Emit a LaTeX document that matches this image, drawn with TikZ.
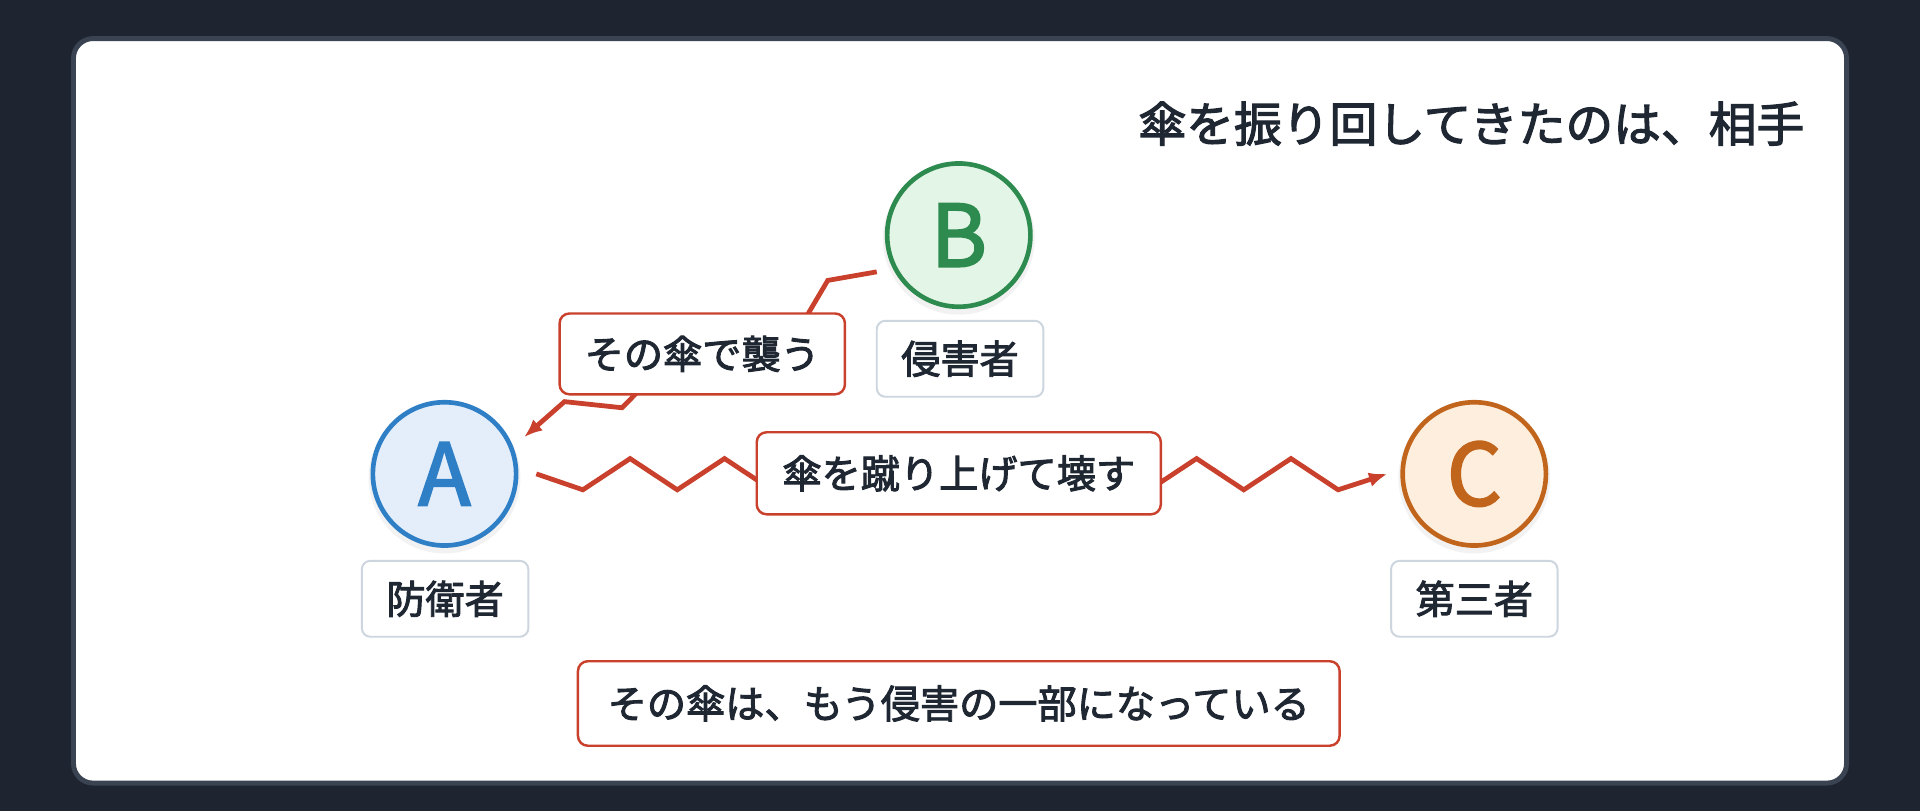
\documentclass[tikz,border=0pt]{standalone}
\usepackage{fontspec}
\setmainfont{Noto Sans CJK JP}[FakeBold=2.4]
\newfontfamily\letterfont{Noto Sans CJK JP}[FakeBold=2.4]
\usetikzlibrary{arrows.meta}
\definecolor{bgdark}{HTML}{1E2430}
\definecolor{cardedge}{HTML}{3A4352}
\definecolor{ink}{HTML}{1F2733}
\definecolor{redc}{HTML}{C9412C}
\definecolor{bluec}{HTML}{2F7FC6}
\definecolor{bluef}{HTML}{E4EEFA}
\definecolor{greenc}{HTML}{2E8B4F}
\definecolor{greenf}{HTML}{E3F5E6}
\definecolor{orangec}{HTML}{C0651B}
\definecolor{orangef}{HTML}{FDEEDD}
\definecolor{grayedge}{HTML}{CDD5DF}
\tikzset{
  person/.style={circle,line width=3.8pt,minimum size=117pt,inner sep=0pt,
    font=\letterfont\fontsize{70}{72}\selectfont},
  rolebox/.style={draw=grayedge,line width=1.6pt,fill=white,rounded corners=7pt,
    minimum width=136pt,minimum height=62pt,inner sep=0pt,text=ink,
    font=\fontsize{32}{34}\selectfont},
  actbox/.style={draw=redc,line width=2pt,fill=white,rounded corners=8pt,
    inner sep=0pt,text=ink,font=\fontsize{32}{34}\selectfont},
  zig/.style={draw=redc,line width=3.9pt,line join=miter,
    -{Latex[length=15pt,width=12pt]}},
  shade/.style={fill=black,opacity=0.05},
}
\begin{document}
\begin{tikzpicture}[x=1pt,y=-1pt]
\useasboundingbox (0,0) rectangle (1568,662);
\fill[bgdark] (0,0) rectangle (1568,662);
\draw[cardedge,line width=4pt,fill=white,rounded corners=16pt] (60,31.5) rectangle (1508,639.5);

\node[anchor=east,text=ink,font=\fontsize{39}{41}\selectfont] (title) at (1477,101) {傘を振り回してきたのは、相手};

% soft shadows
\fill[shade] (363,390) circle (62);
\fill[shade] (783,195) circle (62);
\fill[shade] (1204,390) circle (62);

% persons
\node[person,draw=bluec,fill=bluef,text=bluec] (A) at (363,387) {A};
\node[person,draw=greenc,fill=greenf,text=greenc] (B) at (783,192) {B};
\node[person,draw=orangec,fill=orangef,text=orangec] (C) at (1204,387) {C};

\node[rolebox] (Alab) at (363.5,489) {防衛者};
\node[rolebox] (Blab) at (784,293) {侵害者};
\node[rolebox] (Clab) at (1204,489) {第三者};

% connectors
\coordinate (bs) at (716,222);
\coordinate (ae) at (428,357);
\draw[zig] (bs) -- (676,229) -- (640,290) -- (560,280) -- (508,333) -- (461,328) -- (ae);

\coordinate (as) at (438,387);
\coordinate (ce) at (1133,387);
\draw[zig] (as) -- (476,400) -- (514.6,374.5) -- (553.1,400) -- (591.7,374.5) -- (630.2,400)
  -- (668.8,374.5) -- (707.3,400) -- (745.9,374.5) -- (784.4,400) -- (823,374.5)
  -- (861.5,400) -- (900.1,374.5) -- (938.6,400) -- (977.2,374.5) -- (1015.7,400)
  -- (1054.3,374.5) -- (1092.8,400) -- (ce);

\node[actbox,minimum width=233pt,minimum height=66pt] (atk) at (573.5,289) {その傘で襲う};
\node[actbox,minimum width=330pt,minimum height=67pt] (kick) at (783,386.5) {傘を蹴り上げて壊す};
\node[actbox,minimum width=622pt,minimum height=69pt] (note) at (783,574.5) {その傘は、もう侵害の一部になっている};
\end{tikzpicture}
\end{document}
